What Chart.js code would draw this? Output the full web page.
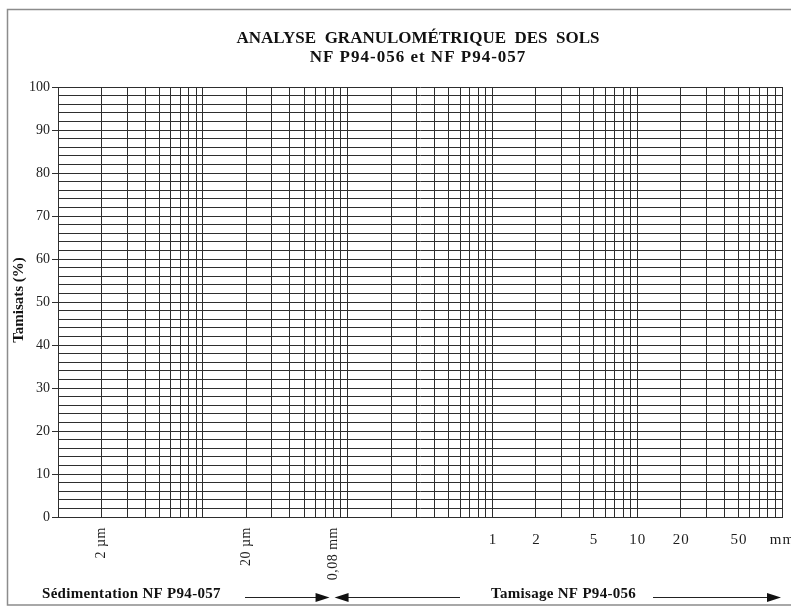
<!DOCTYPE html>
<html>
<head>
<meta charset="utf-8">
<script src="https://cdn.jsdelivr.net/npm/chart.js@4/dist/chart.umd.min.js"></script>
<style>
  html, body { margin: 0; padding: 0; background: #fff; }
  #wrap { width: 791px; height: 608px; position: relative; }
</style>
</head>
<body>
<div id="wrap"><canvas id="c" width="791" height="608"></canvas></div>
<script>
// ---- data (blank form: no measured sample) ----
const samplePassing = [];                       // {x: size in mm, y: % passing}
const xDecades = [0.001, 0.01, 0.1, 1, 10];     // log decades of the grain-size axis (mm)
const xMultipliers = [1, 2, 3, 4, 5, 6, 7, 8, 9];
const xMin = 0.001, xMax = 100;
const xLabelValues = [0.002, 0.02, 0.08, 1, 2, 5, 10, 20, 50, 100];
const xLabelTexts = ['2 µm', '20 µm', '0,08 mm', '1', '2', '5', '10', '20', '50', 'mm'];
const xLabelRotated = [true, true, true, false, false, false, false, false, false, false];
const yMin = 0, yMax = 100, yGridStep = 2, yLabelStep = 10;
const titleLines = ['ANALYSE  GRANULOMÉTRIQUE  DES  SOLS', 'NF P94-056 et NF P94-057'];
const yTitle = 'Tamisats (%)';
const leftFooter = 'Sédimentation NF P94-057';
const rightFooter = 'Tamisage NF P94-056';

const xGridValues = [];
xDecades.forEach(d => xMultipliers.forEach(m => xGridValues.push(+(d * m).toPrecision(3))));
xGridValues.push(xMax);

const SERIF = '"Liberation Serif", "Times New Roman", serif';
const GRID = '#2e2e2e';

function arrowHead(ctx, tipX, y, dir) {
  ctx.beginPath();
  ctx.moveTo(tipX, y);
  ctx.lineTo(tipX - dir * 14, y - 4.5);
  ctx.lineTo(tipX - dir * 14, y + 4.5);
  ctx.closePath();
  ctx.fill();
}

const decor = {
  id: 'decor',
  beforeDraw(chart) {
    const ctx = chart.ctx;
    ctx.save();
    ctx.fillStyle = '#fff';
    ctx.fillRect(0, 0, chart.width, chart.height);
    ctx.strokeStyle = '#8c8c8c';
    ctx.lineWidth = 1.5;
    ctx.beginPath();
    ctx.moveTo(791, 9.5); ctx.lineTo(7.5, 9.5); ctx.lineTo(7.5, 605); ctx.lineTo(791, 605);
    ctx.stroke();
    ctx.restore();
  },
  afterDraw(chart) {
    const ctx = chart.ctx;
    const xs = chart.scales.x;
    const area = chart.chartArea;
    ctx.save();
    ctx.fillStyle = '#111';
    // title
    ctx.textAlign = 'center';
    ctx.textBaseline = 'middle';
    ctx.font = 'bold 17px ' + SERIF;
    const cx = (area.left + area.right) / 2 - 2;
    ctx.fillText(titleLines[0], cx, 39);
    ctx.letterSpacing = '1px';
    ctx.fillText(titleLines[1], cx, 58);
    ctx.letterSpacing = '0px';
    // y title
    ctx.save();
    ctx.translate(19, 300);
    ctx.rotate(-Math.PI / 2);
    ctx.font = 'bold 15px ' + SERIF;
    ctx.fillText(yTitle, 0, 0);
    ctx.restore();
    // x labels
    ctx.font = '14px ' + SERIF;
    ctx.fillStyle = '#1e1e1e';
    xLabelValues.forEach((v, i) => {
      const px = xs.getPixelForValue(v);
      if (xLabelRotated[i]) {
        ctx.save();
        ctx.translate(px, area.bottom + 10);
        ctx.rotate(-Math.PI / 2);
        ctx.letterSpacing = '0.5px';
        ctx.textAlign = 'right';
        ctx.textBaseline = 'middle';
        ctx.fillText(xLabelTexts[i], 0, 0);
        ctx.restore();
      } else {
        ctx.save();
        ctx.font = '15px ' + SERIF;
        ctx.letterSpacing = '1px';
        ctx.textAlign = 'center';
        ctx.textBaseline = 'middle';
        ctx.fillText(xLabelTexts[i], px + 0.5, area.bottom + 23);
        ctx.restore();
      }
    });
    // footer
    ctx.fillStyle = '#111';
    ctx.font = 'bold 15px ' + SERIF;
    ctx.letterSpacing = '0.3px';
    ctx.textAlign = 'left';
    ctx.textBaseline = 'middle';
    ctx.fillText(leftFooter, 42, 594);
    ctx.fillText(rightFooter, 491, 594);
    ctx.letterSpacing = '0px';
    ctx.strokeStyle = '#222';
    ctx.lineWidth = 1;
    const ay = 597.5;
    const x008 = xs.getPixelForValue(0.08);
    ctx.beginPath(); ctx.moveTo(245, ay); ctx.lineTo(x008 - 8, ay); ctx.stroke();
    arrowHead(ctx, x008 - 4, ay, 1);
    ctx.beginPath(); ctx.moveTo(x008 + 8, ay); ctx.lineTo(460, ay); ctx.stroke();
    arrowHead(ctx, x008 + 1, ay, -1);
    ctx.beginPath(); ctx.moveTo(653, ay); ctx.lineTo(770, ay); ctx.stroke();
    arrowHead(ctx, 781, ay, 1);
    ctx.restore();
  }
};

new Chart(document.getElementById('c'), {
  type: 'scatter',
  data: { datasets: [{ data: samplePassing, showLine: true, borderColor: '#000', pointRadius: 0 }] },
  options: {
    responsive: false,
    animation: false,
    devicePixelRatio: 1,
    layout: { padding: { left: 0, top: 87, right: 9, bottom: 91 } },
    plugins: { legend: { display: false }, title: { display: false }, tooltip: { enabled: false } },
    scales: {
      x: {
        type: 'logarithmic',
        min: xMin, max: xMax,
        afterBuildTicks: s => { s.ticks = xGridValues.map(v => ({ value: v })); },
        afterFit: s => { s.height = 0; },
        ticks: { display: false, autoSkip: false },
        grid: { color: GRID, lineWidth: 1, drawTicks: false },
        border: { color: GRID, width: 1 }
      },
      y: {
        type: 'linear',
        min: yMin, max: yMax,
        afterFit: s => { s.width = 58; },
        ticks: {
          stepSize: yGridStep, autoSkip: false, padding: 2,
          color: '#222', font: { family: SERIF, size: 14 },
          callback: v => (v % yLabelStep === 0 ? String(v) : '')
        },
        grid: {
          color: GRID, lineWidth: 1, tickLength: 6,
          tickColor: c => (c.tick && c.tick.value % yLabelStep === 0 ? GRID : 'rgba(0,0,0,0)')
        },
        border: { color: GRID, width: 1 }
      }
    }
  },
  plugins: [decor]
});
</script>
</body>
</html>
